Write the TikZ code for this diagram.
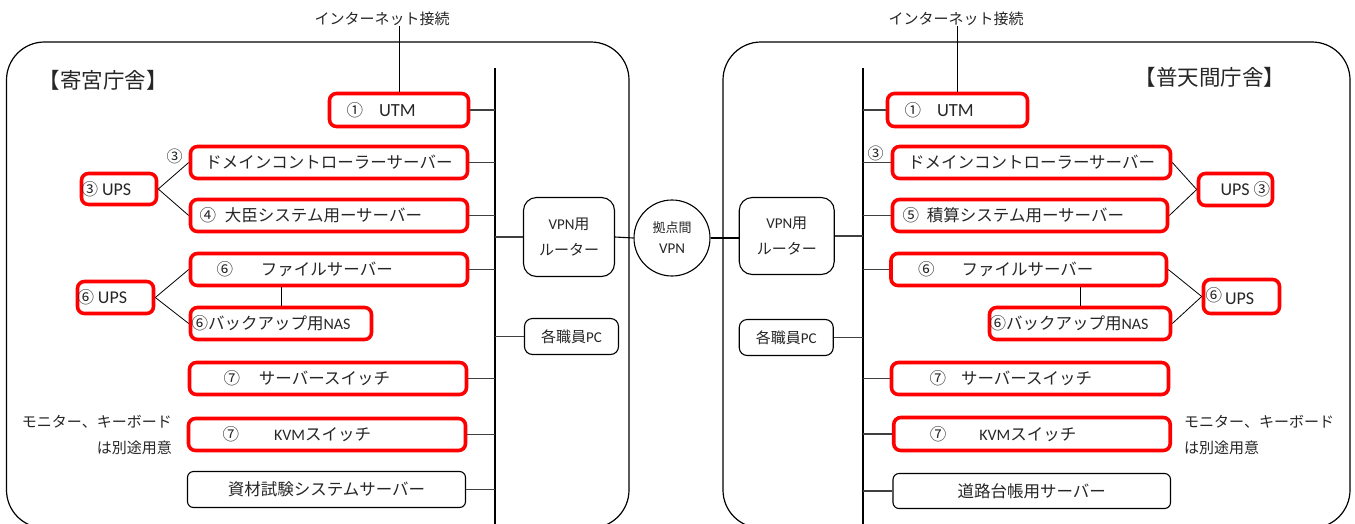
\documentclass[tikz,border=0pt]{standalone}
\usepackage{fontspec}
\setmainfont{Noto Sans CJK JP}
\newfontfamily\lat{Carlito}
\newcommand\LT[2]{{\lat\fontsize{#1}{#1}\selectfont #2}}
\newcommand\fs[1]{\fontsize{#1}{#1}\selectfont}
\begin{document}
\begin{tikzpicture}[x=1pt,y=-1pt,
  rbox/.style={draw=red, line width=3.6pt, rounded corners=7pt, inner xsep=0pt, inner ysep=0pt, align=left, font=\fs{16.5}, text=black!85},
  kbox/.style={draw=black, line width=1.1pt, rounded corners=6pt, inner sep=0pt, align=center, font=\fs{16.5}, text=black!85},
  link/.style={draw=black!75, line width=1.3pt},
  uline/.style={draw=black, line width=0.8pt},
  bus/.style={draw=black, line width=1.1pt},
  frame/.style={draw=black, line width=1.2pt, rounded corners=38pt},
  plain/.style={inner sep=0pt, text=black!85},
  ]
\useasboundingbox (0,0) rectangle (1355,523);
\clip (0,0) rectangle (1355,523);
% frames
\draw[frame] (6.5,42) rectangle (629,528);
\draw[frame] (723,42) rectangle (1350,528);
% buses
\coordinate (busLt) at (495,68); \coordinate (busLb) at (495,530);
\coordinate (busRt) at (863,68); \coordinate (busRb) at (863,530);
\draw[bus] (busLt) -- (busLb);
\draw[bus] (busRt) -- (busRb);
% titles
\node[plain, font=\fs{21.5}] (titleL) at (103,80) {【寄宮庁舎】};
\node[plain, font=\fs{21.5}] (titleR) at (1210,77) {【普天間庁舎】};
\node[plain, font=\fs{15}] (netL) at (382,19) {インターネット接続};
\node[plain, font=\fs{15}] (netR) at (956,19) {インターネット接続};
% left boxes
\node[rbox, text width=139pt, minimum height=33pt] (utmL) at (399,110) {\hspace*{17pt}①\hspace{16pt}\LT{18.5}{UTM}};
\node[rbox, text width=277pt, minimum height=32pt, align=center] (dcL) at (329,162.5) {ドメインコントローラーサーバー};
\node[rbox, text width=277pt, minimum height=32pt] (daijin) at (329,215.5) {\hspace*{9pt}④\hspace{9pt}大臣システム用ーサーバー};
\node[rbox, text width=277pt, minimum height=32pt] (fileL) at (329,269.5) {\hspace*{26pt}⑥\hspace{28pt}ファイルサーバー};
\node[rbox, text width=181pt, minimum height=32pt] (nasL) at (281,323.5) {\hspace*{1pt}⑥バックアップ用\LT{16}{NAS}};
\node[rbox, text width=277pt, minimum height=32pt] (swL) at (328,378.5) {\hspace*{34pt}⑦\hspace{19pt}サーバースイッチ};
\node[rbox, text width=277pt, minimum height=32pt] (kvmL) at (327,434.5) {\hspace*{34pt}⑦\hspace{35pt}\LT{16}{KVM}スイッチ};
\node[kbox, text width=278pt, minimum height=36pt] (shizai) at (326.5,489.5) {資材試験システムサーバー};
\node[rbox, text width=75pt, minimum height=31pt] (upsL3) at (119,189) {③\hspace{4pt}\LT{18}{UPS}};
\node[rbox, text width=76pt, minimum height=32pt] (upsL6) at (115.5,297.5) {⑥\hspace{4pt}\LT{18}{UPS}};
\node[plain, font=\fs{16}] (n3L) at (174.5,156.5) {③};
\node[plain, font=\fs{15}, align=right, anchor=east] (noteL) at (172,435) {\fs{15}モニター、キーボード\\[11pt]は別途用意};
% centre
\node[kbox, rounded corners=13pt, text width=91pt, minimum height=79pt, font=\fs{15}] (routerL) at (569,237) {\LT{15}{VPN}用\\[11pt]ルーター};
\node[kbox, rounded corners=8pt, text width=94pt, minimum height=36pt, font=\fs{15}] (pcL) at (571.5,336.5) {各職員\LT{15}{PC}};
\node[draw=black, line width=1.1pt, circle, minimum size=76pt, inner sep=0pt, align=center, font=\fs{13}, text=black!85] (vpn) at (672,238) {拠点間\\[8pt]\LT{15}{VPN}};
\node[kbox, rounded corners=13pt, text width=95pt, minimum height=77pt, font=\fs{15}] (routerR) at (786.75,236) {\LT{15}{VPN}用\\[11pt]ルーター};
\node[kbox, rounded corners=8pt, text width=94pt, minimum height=36pt, font=\fs{15}] (pcR) at (786.25,337.5) {各職員\LT{15}{PC}};
% right boxes
\node[rbox, text width=140pt, minimum height=33pt] (utmR) at (957.5,110) {\hspace*{17pt}①\hspace{16pt}\LT{18.5}{UTM}};
\node[rbox, text width=278pt, minimum height=32pt, align=center] (dcR) at (1031.5,162.5) {ドメインコントローラーサーバー};
\node[rbox, text width=275pt, minimum height=32pt] (sekisan) at (1030,215.5) {\hspace*{10pt}⑤\hspace{8pt}積算システム用ーサーバー};
\node[rbox, text width=275.5pt, minimum height=32pt] (fileR) at (1028.75,269.5) {\hspace*{27pt}⑥\hspace{27pt}ファイルサーバー};
\node[rbox, text width=181pt, minimum height=32pt] (nasR) at (1080,323.5) {\hspace*{0pt}⑥バックアップ用\LT{16}{NAS}};
\node[rbox, text width=74pt, minimum height=32pt] (upsR3) at (1235.5,189.5) {\hspace*{22pt}\LT{18}{UPS}\hspace{4pt}③};
\node[rbox, text width=76pt, minimum height=34pt] (upsR6) at (1241.5,296.5) {\hspace*{2pt}\raisebox{3pt}{⑥}\hspace{3pt}\LT{18}{UPS}};
\node[rbox, text width=277pt, minimum height=32pt] (swR) at (1030,378.5) {\hspace*{38pt}⑦\hspace{15pt}サーバースイッチ};
\node[rbox, text width=276.5pt, minimum height=33pt] (kvmR) at (1032,434) {\hspace*{36pt}⑦\hspace{33pt}\LT{16}{KVM}スイッチ};
\node[kbox, text width=277.5pt, minimum height=35pt] (douro) at (1031.75,491) {道路台帳用サーバー};
\node[plain, font=\fs{16}] (n3R) at (875.5,153) {③};
\node[plain, font=\fs{15}, align=left, anchor=west] (noteR) at (1184,435) {\fs{15}モニター、キーボード\\[11pt]は別途用意};
% internet lines
\draw[uline] (utmL.north) -- (utmL.north |- netL.south);
\draw[uline] (utmR.north) -- (utmR.north |- netR.south);
% left links to bus
\foreach \n in {utmL,dcL,daijin,fileL,swL,kvmL,shizai}
  \draw[link] (\n.east) -- (\n.east -| busLt);
\draw[link] (routerL.west) -- (routerL.west -| busLt);
\draw[link] (pcL.west) -- (pcL.west -| busLt);
% right links to bus
\foreach \n in {utmR,dcR,sekisan,fileR,swR,kvmR,douro}
  \draw[link] (\n.west) -- (\n.west -| busRt);
\draw[link] (routerR.east) -- (routerR.east -| busRt);
\draw[link] (pcR.east) -- (pcR.east -| busRt);
% VPN
\draw[bus] (routerL.east) -- (vpn.west);
\draw[bus] (vpn.east) -- (vpn.east -| routerR.west);
% UPS links
\draw[uline] (upsL3.east) -- (dcL.west);
\draw[uline] (upsL3.east) -- (daijin.west);
\draw[uline] (upsL6.east) -- (fileL.west);
\draw[uline] (upsL6.east) -- (nasL.west);
\draw[uline] (nasL.north) -- (nasL.north |- fileL.south);
\draw[uline] (dcR.east) -- (upsR3.west);
\draw[uline] (sekisan.east) -- (upsR3.west);
\draw[uline] (fileR.east) -- (upsR6.west);
\draw[uline] (nasR.east) -- (upsR6.west);
\draw[uline] (nasR.north) -- (nasR.north |- fileR.south);
\end{tikzpicture}
\end{document}
